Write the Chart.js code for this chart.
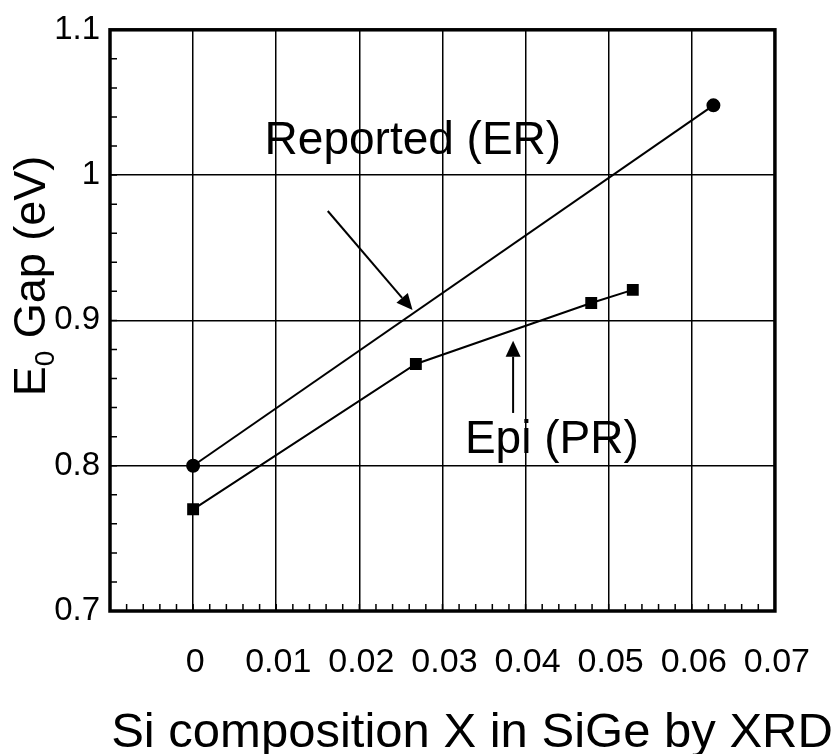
<!DOCTYPE html>
<html>
<head>
<meta charset="utf-8">
<script src="https://cdn.jsdelivr.net/npm/chart.js@4.4.1/dist/chart.umd.min.js"></script>
<style>
  html, body { margin: 0; padding: 0; background: #fff; }
  #wrap { width: 839px; height: 754px; }
</style>
</head>
<body>
<div id="wrap"><canvas id="gapChart" width="839" height="754"></canvas></div>
<script>
// Datos
const reportedX = [0, 0.0626];
const reportedY = [0.800, 1.048];
const epiX = [0, 0.0268, 0.0479, 0.0529];
const epiY = [0.770, 0.870, 0.912, 0.921];

// Ejes
const xGrid = [-0.01, 0, 0.01, 0.02, 0.03, 0.04, 0.05, 0.06, 0.07];
const xTickLabels = ['', '0', '0.01', '0.02', '0.03', '0.04', '0.05', '0.06', '0.07'];
const yGrid = [0.7, 0.8, 0.9, 1.0, 1.1];
const yTickLabels = ['0.7', '0.8', '0.9', '1', '1.1'];
const xTitle = 'Si composition X in SiGe by XRD';

const FONT = '"Liberation Sans", Arial, Helvetica, sans-serif';

// Bordes, marcas menores, anotaciones y títulos
const extras = {
  id: 'extras',
  beforeDatasetsDraw(chart) {
    const { ctx, chartArea: a, scales: { x, y } } = chart;
    ctx.save();
    ctx.strokeStyle = '#000';
    // marcas menores abajo (cada 0.002) y a la izquierda (cada 0.02)
    ctx.lineWidth = 1.5;
    ctx.beginPath();
    for (let i = 0; i <= 40; i++) {
      const px = x.getPixelForValue(-0.01 + i * 0.002);
      ctx.moveTo(px, a.bottom);
      ctx.lineTo(px, a.bottom - 7);
    }
    for (let i = 0; i <= 20; i++) {
      const py = y.getPixelForValue(0.7 + i * 0.02);
      ctx.moveTo(a.left, py);
      ctx.lineTo(a.left + 7, py);
    }
    ctx.stroke();
    // marco grueso
    ctx.lineWidth = 3.5;
    ctx.strokeRect(a.left, a.top, a.right - a.left, a.bottom - a.top);
    ctx.restore();
  },
  afterDraw(chart) {
    const { ctx, scales: { x, y } } = chart;
    ctx.save();
    ctx.fillStyle = '#000';
    ctx.strokeStyle = '#000';
    ctx.font = '46px ' + FONT;
    ctx.textBaseline = 'alphabetic';
    ctx.fillText('Reported (ER)', x.getPixelForValue(0.0086), y.getPixelForValue(1.0148));
    ctx.fillText('Epi (PR)', x.getPixelForValue(0.0327), y.getPixelForValue(0.809));

    arrow(ctx, x.getPixelForValue(0.0162), y.getPixelForValue(0.9753),
               x.getPixelForValue(0.0264), y.getPixelForValue(0.9072));
    arrow(ctx, x.getPixelForValue(0.0385), y.getPixelForValue(0.8363),
               x.getPixelForValue(0.0385), y.getPixelForValue(0.886));

    // título del eje X
    ctx.font = '49px ' + FONT;
    ctx.textAlign = 'center';
    ctx.fillText(xTitle, 472, 747);
    ctx.textAlign = 'left';

    // título del eje Y con subíndice
    ctx.translate(33, 276);
    ctx.rotate(-Math.PI / 2);
    const big = '45px ' + FONT, small = '28px ' + FONT;
    ctx.font = big;
    const wE = ctx.measureText('E').width;
    const wRest = ctx.measureText(' Gap (eV)').width;
    ctx.font = small;
    const w0 = ctx.measureText('0').width;
    const cx = -(wE + w0 + wRest) / 2;
    ctx.textBaseline = 'middle';
    ctx.font = big;
    ctx.fillText('E', cx, 0);
    ctx.font = small;
    ctx.fillText('0', cx + wE, 13);
    ctx.font = big;
    ctx.fillText(' Gap (eV)', cx + wE + w0, 0);
    ctx.restore();
  }
};

function arrow(ctx, x1, y1, x2, y2) {
  const ang = Math.atan2(y2 - y1, x2 - x1);
  const len = 16, half = 7.5;
  const bx = x2 - len * Math.cos(ang), by = y2 - len * Math.sin(ang);
  ctx.lineWidth = 2;
  ctx.beginPath();
  ctx.moveTo(x1, y1);
  ctx.lineTo(bx, by);
  ctx.stroke();
  ctx.beginPath();
  ctx.moveTo(x2, y2);
  ctx.lineTo(bx - half * Math.sin(ang), by + half * Math.cos(ang));
  ctx.lineTo(bx + half * Math.sin(ang), by - half * Math.cos(ang));
  ctx.closePath();
  ctx.fill();
}

const isEdge = (v, lo, hi) => Math.abs(v - lo) < 1e-9 || Math.abs(v - hi) < 1e-9;

new Chart(document.getElementById('gapChart'), {
  type: 'scatter',
  data: {
    datasets: [
      {
        label: 'Reported (ER)',
        data: reportedX.map((v, i) => ({ x: v, y: reportedY[i] })),
        showLine: true,
        borderColor: '#000',
        borderWidth: 2,
        backgroundColor: '#000',
        pointStyle: 'circle',
        pointRadius: 6
      },
      {
        label: 'Epi (PR)',
        data: epiX.map((v, i) => ({ x: v, y: epiY[i] })),
        showLine: true,
        borderColor: '#000',
        borderWidth: 2,
        backgroundColor: '#000',
        pointStyle: 'rect',
        pointRadius: 7
      }
    ]
  },
  options: {
    responsive: false,
    devicePixelRatio: 1,
    animation: false,
    layout: { padding: { top: 25, right: 63, left: 0, bottom: 0 } },
    plugins: { legend: { display: false }, tooltip: { enabled: false } },
    scales: {
      x: {
        type: 'linear',
        min: -0.01,
        max: 0.07,
        afterBuildTicks: s => { s.ticks = xGrid.map(v => ({ value: v })); },
        afterFit: s => { s.height = 143; },
        border: { display: false },
        grid: {
          drawTicks: false,
          lineWidth: 1.5,
          color: c => (c.tick && isEdge(c.tick.value, -0.01, 0.07)) ? 'rgba(0,0,0,0)' : '#000'
        },
        ticks: {
          autoSkip: false,
          maxRotation: 0,
          padding: 31,
          labelOffset: 2,
          color: '#000',
          font: { family: FONT, size: 34 },
          callback: (v, i) => xTickLabels[i]
        }
      },
      y: {
        min: 0.7,
        max: 1.1,
        afterBuildTicks: s => { s.ticks = yGrid.map(v => ({ value: v })); },
        afterFit: s => { s.width = 110; },
        border: { display: false },
        grid: {
          drawTicks: false,
          lineWidth: 1.5,
          color: c => (c.tick && isEdge(c.tick.value, 0.7, 1.1)) ? 'rgba(0,0,0,0)' : '#000'
        },
        ticks: {
          padding: 10,
          color: '#000',
          font: { family: FONT, size: 33 },
          callback: (v, i) => yTickLabels[i]
        }
      }
    }
  },
  plugins: [extras]
});
</script>
</body>
</html>
